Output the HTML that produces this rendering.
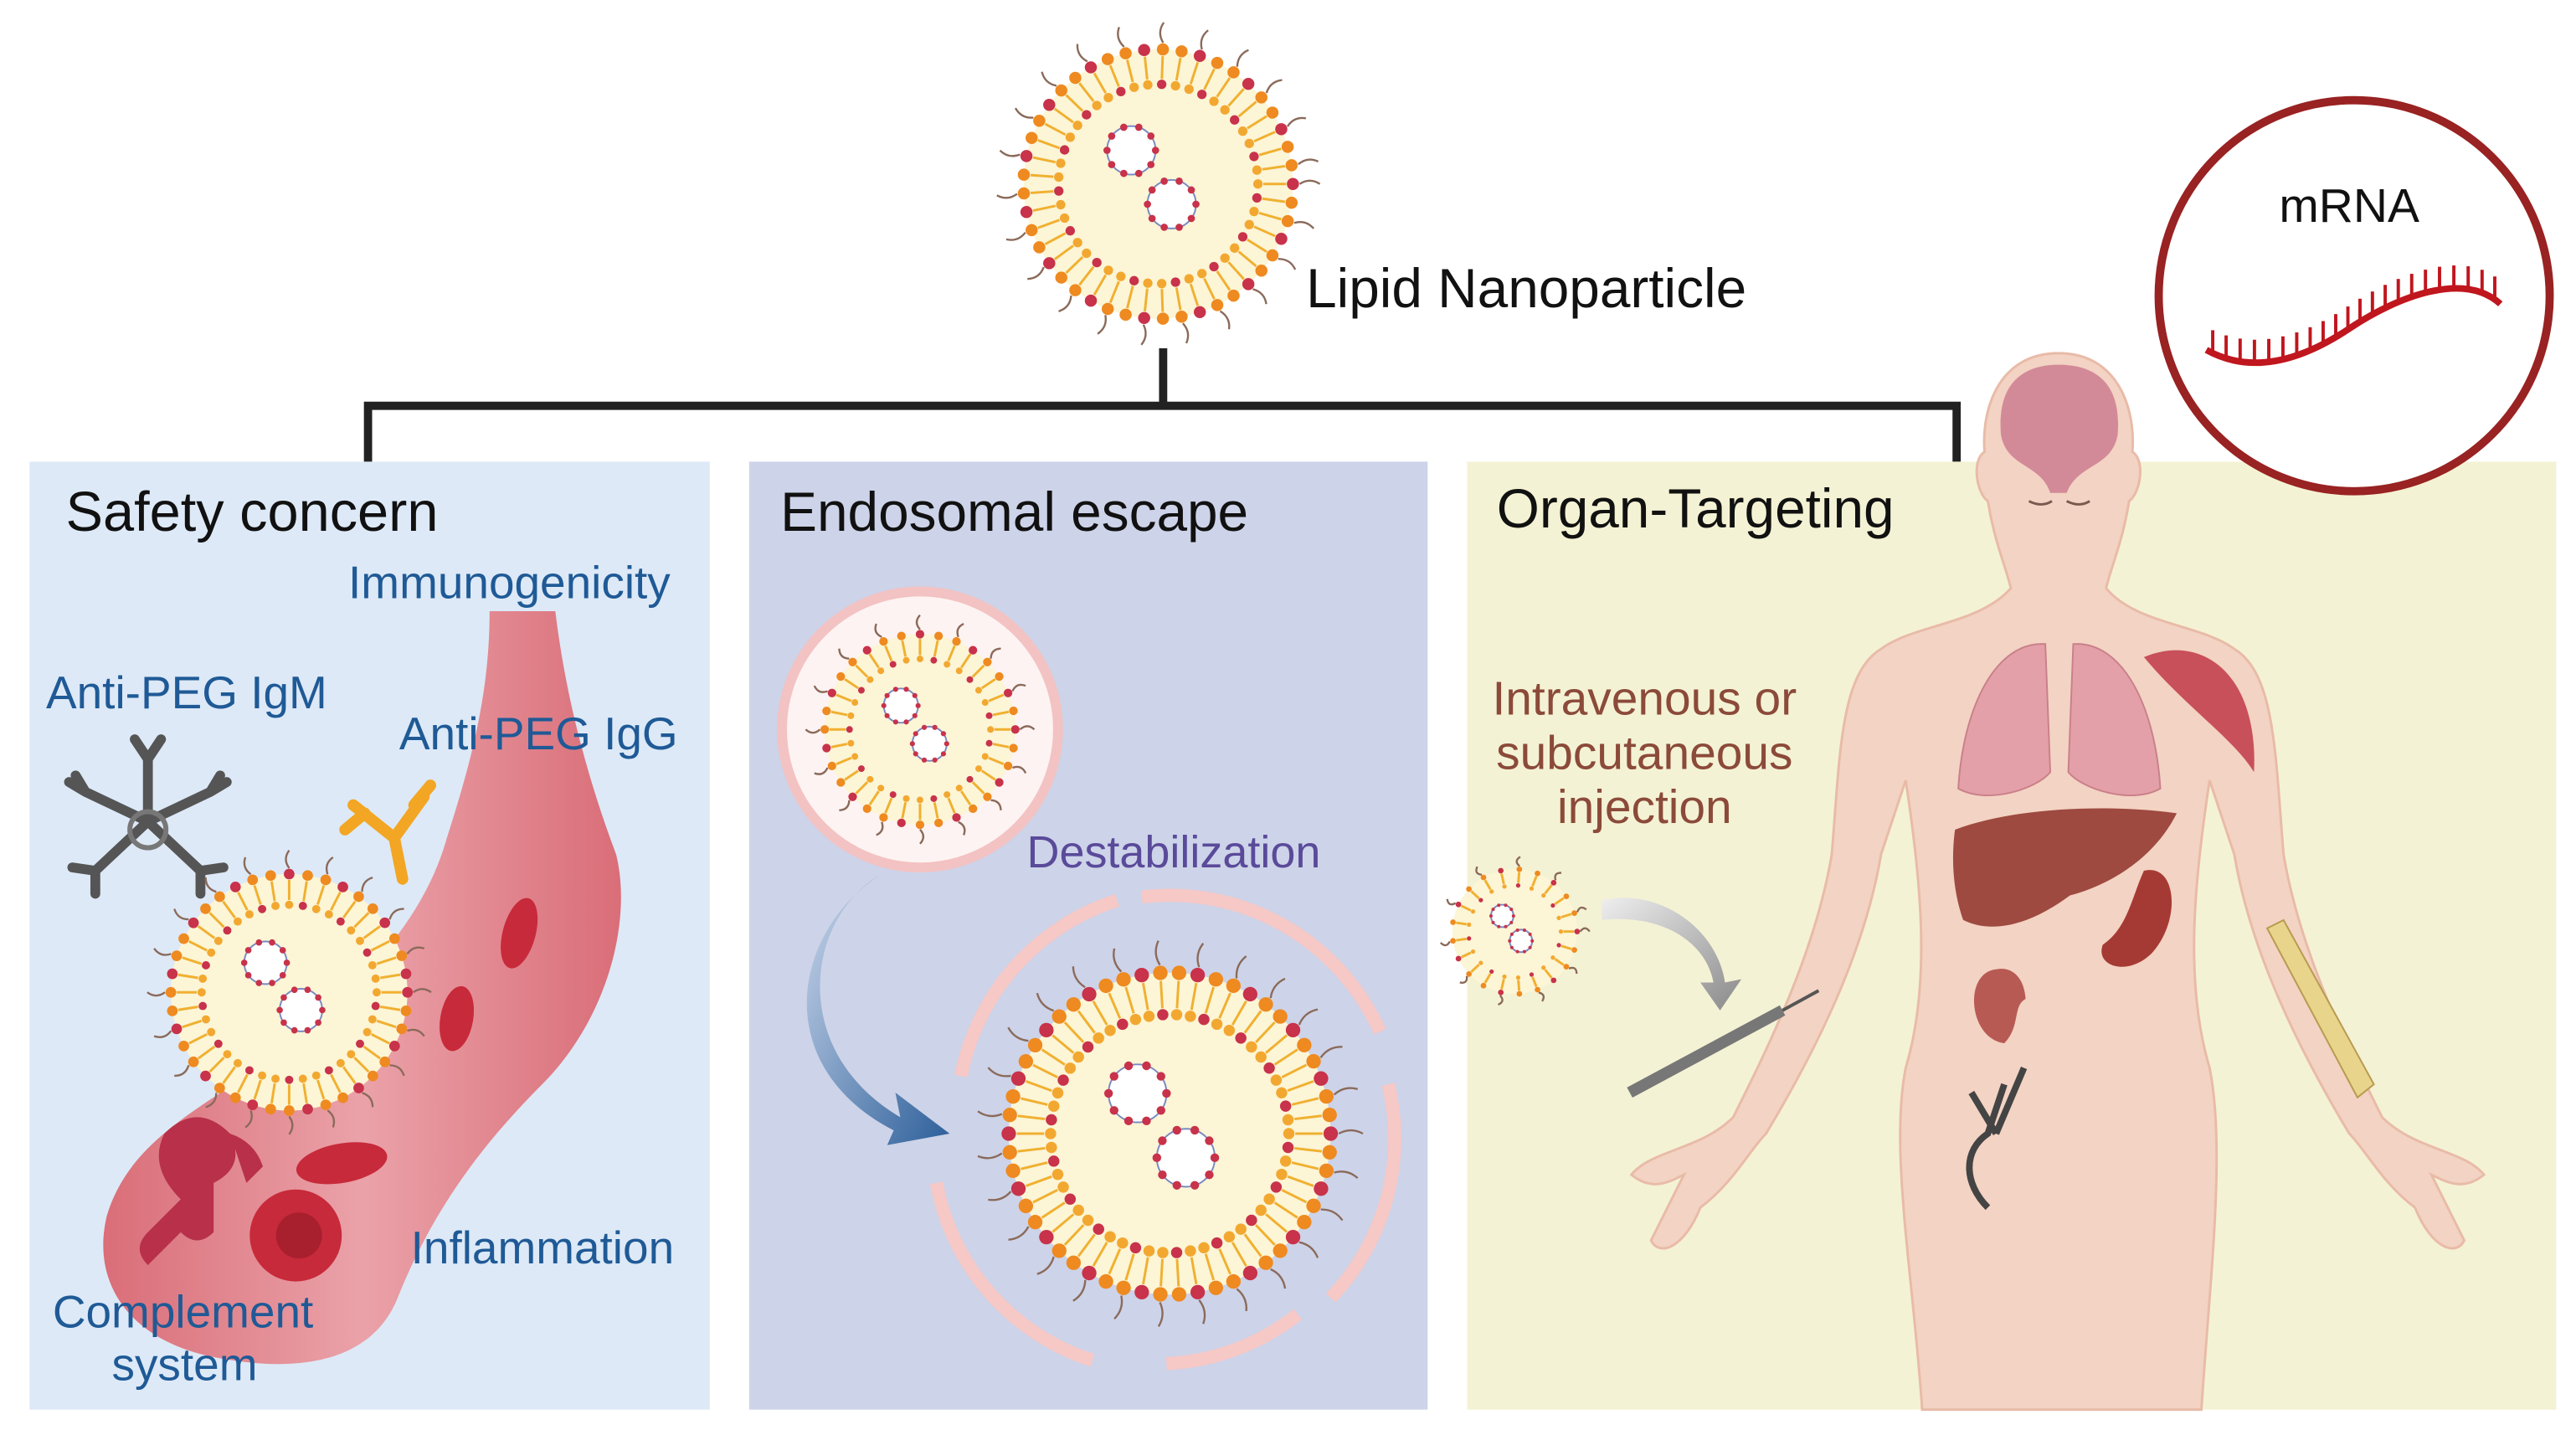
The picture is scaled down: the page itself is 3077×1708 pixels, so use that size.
<!DOCTYPE html>
<html><head><meta charset="utf-8"><style>
html,body{margin:0;padding:0;background:#fff;overflow:hidden}
svg{display:block}
text{font-family:"Liberation Sans",sans-serif}
</style></head><body>
<svg id="s" width="3077" height="1708" viewBox="0 0 1568 870.4" xmlns="http://www.w3.org/2000/svg">
<defs>
<linearGradient id="ves" x1="0" y1="0" x2="1" y2="0"><stop offset="0" stop-color="#d9606a"/><stop offset="0.5" stop-color="#ec9aa0"/><stop offset="1" stop-color="#d9606a"/></linearGradient>
<linearGradient id="blu" x1="0" y1="0" x2="1" y2="1"><stop offset="0" stop-color="#c9d6ea"/><stop offset="1" stop-color="#2d5f9a"/></linearGradient>
<linearGradient id="gr" x1="0" y1="0" x2="1" y2="1"><stop offset="0" stop-color="#eeeeee"/><stop offset="1" stop-color="#8a8a8a"/></linearGradient>
</defs>
<rect width="1568" height="871" fill="#fff"/>
<rect x="18" y="281" width="414" height="577" fill="#dde9f7"/>
<rect x="456" y="281" width="413" height="577" fill="#cdd3e8"/>
<rect x="893" y="281" width="663" height="577" fill="#f4f2d4"/>
<path d="M224,281 V247 H1191 V281 M708,212 V247" fill="none" stroke="#222" stroke-width="5"/>
<text x="795" y="187" font-size="33.5" fill="#111">Lipid Nanoparticle</text>
<text x="40" y="323" font-size="34" fill="#111">Safety concern</text>
<text x="475" y="323" font-size="33.5" fill="#111">Endosomal escape</text>
<text x="911" y="321" font-size="33.5" fill="#111">Organ-Targeting</text>
<path d="M298,372 L338,372 C345,430 360,480 375,520 C385,560 370,620 330,660 C290,700 262,740 242,790 C226,830 180,836 130,826 C80,816 55,782 65,740 C80,690 130,672 170,640 C220,600 258,560 272,510 C288,460 298,420 298,372 Z" fill="url(#ves)" opacity="0.9"/>
<ellipse cx="316" cy="568" rx="10" ry="22" fill="#c72a3a" transform="rotate(15 316 568)"/>
<ellipse cx="278" cy="620" rx="10" ry="20" fill="#c72a3a" transform="rotate(10 278 620)"/>
<ellipse cx="208" cy="708" rx="28" ry="12" fill="#c72a3a" transform="rotate(-10 208 708)"/>
<circle cx="180" cy="752" r="28" fill="#c72a3a"/><circle cx="182" cy="752" r="14" fill="#a81f2e"/>
<path d="M100,690 q20,-20 40,0 q10,20 -10,30 v30 q-10,10 -20,0 l-20,20 q-10,-10 0,-20 l20,-20 q-20,-20 -10,-40z M140,690 q15,5 20,20 l-10,10z" fill="#b8304a"/>
<g stroke="#555" stroke-width="6" fill="none" stroke-linecap="round">
<path d="M90,500 L90,462 M90,462 l-8,-12 M90,462 l8,-12 M90,500 l-38,-18 M52,482 l-10,-6 M52,482 l-6,-10 M90,500 l38,-18 M128,482 l10,-6 M128,482 l6,-10 M90,500 l-32,30 M58,530 l-14,-2 M58,530 l0,14 M90,500 l32,30 M122,530 l14,-2 M122,530 l0,14"/>
</g>
<circle cx="90" cy="505" r="11" fill="none" stroke="#777" stroke-width="3"/>
<g stroke="#f2a623" stroke-width="7" fill="none" stroke-linecap="round">
<path d="M240,510 L215,490 M240,510 L258,485 M240,510 L245,535 M222,495 l-12,10 M252,490 l10,-12"/>
</g>
<g font-size="28" fill="#1f5a96">
<text x="212" y="364">Immunogenicity</text>
<text x="28" y="431">Anti-PEG IgM</text>
<text x="243" y="456">Anti-PEG IgG</text>
<text x="250" y="769">Inflammation</text>
<text x="32" y="808">Complement</text>
<text x="68" y="840">system</text>
</g>
<circle cx="560" cy="444" r="84" fill="#fdf3f2" stroke="#f3c2c2" stroke-width="6"/>
<g fill="none" stroke="#f6c8c6" stroke-width="8">
<path d="M585,655 A140,140 0 0 1 680,548"/>
<path d="M695,546 A140,140 0 0 1 840,628"/>
<path d="M845,660 A140,140 0 0 1 810,790"/>
<path d="M790,800 A140,140 0 0 1 710,830"/>
<path d="M665,828 A140,140 0 0 1 570,720"/>
</g>
<path d="M535,533 C490,560 480,640 548,680 L545,665 L578,690 L540,697 L544,688 C470,650 480,570 535,533 Z" fill="url(#blu)"/>
<text x="625" y="528" font-size="27.5" fill="#5a4a9a">Destabilization</text>
<path d="M1253,215 C1290,215 1300,250 1298,275 C1306,280 1303,300 1296,305 C1292,330 1285,345 1282,358 C1300,380 1340,380 1360,395 C1385,410 1385,460 1390,520 C1400,580 1430,640 1450,680 C1470,700 1500,700 1512,715 C1500,725 1490,720 1480,715 L1500,755 C1495,765 1480,760 1470,735 C1450,720 1440,700 1430,690 C1400,640 1370,580 1360,520 L1345,475 C1335,540 1330,600 1345,650 C1355,700 1345,780 1340,858 L1170,858 C1165,780 1150,700 1160,650 C1175,600 1170,540 1160,475 L1145,520 C1135,580 1105,640 1075,690 C1065,700 1055,720 1035,735 C1025,760 1010,765 1005,755 L1025,715 C1015,720 1005,725 993,715 C1005,700 1035,700 1055,680 C1075,640 1105,580 1115,520 C1120,460 1120,410 1145,395 C1165,380 1205,380 1224,358 C1221,345 1214,330 1210,305 C1203,300 1200,280 1208,275 C1206,250 1216,215 1253,215 Z" fill="#f3d3c3" stroke="#e8bba8" stroke-width="1.5"/>
<path d="M1218,265 C1215,230 1235,222 1253,222 C1272,222 1292,230 1289,265 C1285,285 1265,282 1258,300 L1248,300 C1242,282 1222,285 1218,265Z" fill="#d38a98"/>
<path d="M1235,305 q8,4 14,0 M1258,305 q8,4 14,0" stroke="#7a5a50" stroke-width="1.5" fill="none"/>
<path d="M1245,392 C1215,390 1195,430 1192,480 C1210,490 1240,480 1248,470 Z M1262,392 C1292,390 1312,430 1315,480 C1297,490 1267,480 1259,470 Z" fill="#e4a0a8" stroke="#c9808a"/>
<path d="M1305,400 C1340,385 1375,410 1372,470 C1360,450 1330,430 1305,400Z" fill="#c8505a"/>
<path d="M1190,505 C1230,490 1290,490 1325,495 C1310,525 1280,540 1260,545 C1240,560 1215,570 1195,560 C1188,540 1188,520 1190,505Z" fill="#9e4a40"/>
<path d="M1305,530 C1325,525 1328,560 1310,580 C1295,595 1275,588 1280,575 C1295,565 1298,545 1305,530Z" fill="#a53a34"/>
<path d="M1215,590 C1195,592 1198,632 1220,635 C1230,625 1225,612 1233,608 C1232,595 1225,588 1215,590Z" fill="#b85a54"/>
<path d="M1380,565 L1390,560 L1445,660 L1435,668 Z" fill="#e8d48a" stroke="#b89a50"/>
<path d="M1210,735 C1195,720 1195,700 1210,690 L1220,660 M1215,690 L1232,650 M1215,690 L1200,665" stroke="#444" stroke-width="4" fill="none"/>
<path d="M975,548 C1010,540 1045,565 1050,598 L1060,596 L1047,615 L1035,598 L1043,598 C1038,572 1010,556 975,560Z" fill="url(#gr)"/>
<path d="M992,665 L1085,615" stroke="#777" stroke-width="7"/>
<path d="M1085,615 L1107,603" stroke="#555" stroke-width="2"/>
<g font-size="29" fill="#8b4a3a" text-anchor="middle">
<text x="1001" y="435">Intravenous or</text>
<text x="1001" y="468">subcutaneous</text>
<text x="1001" y="501">injection</text>
</g>
<circle cx="1433" cy="180" r="119" fill="#fff" stroke="#992222" stroke-width="5"/>
<text x="1430" y="135" font-size="29" fill="#111" text-anchor="middle">mRNA</text>
<path id="mr" d="M1343,213 C1370,228 1400,220 1430,200 C1460,180 1500,165 1522,185" fill="none" stroke="#c0161e" stroke-width="4"/>
<g id="lnps"></g>
</svg>
<script>
var s=document.getElementById('lnps'),NS='http://www.w3.org/2000/svg';
function el(t,a){var e=document.createElementNS(NS,t);for(var k in a)e.setAttribute(k,a[k]);s.appendChild(e);return e;}
function lnp(cx,cy,r){
 el('circle',{cx:cx,cy:cy,r:r,fill:'#fcf5d6'});
 var n=Math.round(r*0.55);
 for(var i=0;i<n;i++){var a=i/n*6.283;var c=Math.cos(a),sn=Math.sin(a);
  var x1=cx+c*r*1.05,y1=cy+sn*r*1.05,x2=cx+c*r*1.2,y2=cy+sn*r*1.2;
  var qx=(x1+x2)/2+4*sn,qy=(y1+y2)/2-4*c;
  if(i%2==0)el('path',{d:'M'+x1.toFixed(1)+','+y1.toFixed(1)+' Q'+qx.toFixed(1)+','+qy.toFixed(1)+' '+x2.toFixed(1)+','+y2.toFixed(1),stroke:'#8a6a5a','stroke-width':1.2,fill:'none'});
  el('line',{x1:cx+c*r*0.78,y1:cy+sn*r*0.78,x2:cx+c*r*0.95,y2:cy+sn*r*0.95,stroke:'#f0b030','stroke-width':1.5});
  el('circle',{cx:cx+c*r,cy:cy+sn*r,r:r*0.045,fill:i%3==0?'#c8324a':'#ee8a20'});
  el('circle',{cx:cx+c*r*0.74,cy:cy+sn*r*0.74,r:r*0.035,fill:i%3==1?'#c8324a':'#f2a830'});
 }
 [[-0.2,-0.25],[0.1,0.15]].forEach(function(p){var x=cx+p[0]*r,y=cy+p[1]*r,rr=r*0.18;
  el('circle',{cx:x,cy:y,r:rr,fill:'#fff',stroke:'#7a8ac0','stroke-width':1});
  for(var j=0;j<10;j++){var b=j/10*6.283;el('circle',{cx:x+Math.cos(b)*rr,cy:y+Math.sin(b)*rr,r:rr*0.15,fill:'#c8324a'});}
 });
}
lnp(705,112,82);lnp(176,604,72);lnp(560,444,58);lnp(922,567,38);lnp(712,690,98);
var m=document.getElementById('mr');var L=m.getTotalLength();
for(var i=0;i<22;i++){var p=m.getPointAtLength(L*(i+0.5)/22);el('line',{x1:p.x,y1:p.y,x2:p.x,y2:p.y-14,stroke:'#c0161e','stroke-width':2});}
</script>
</body></html>
